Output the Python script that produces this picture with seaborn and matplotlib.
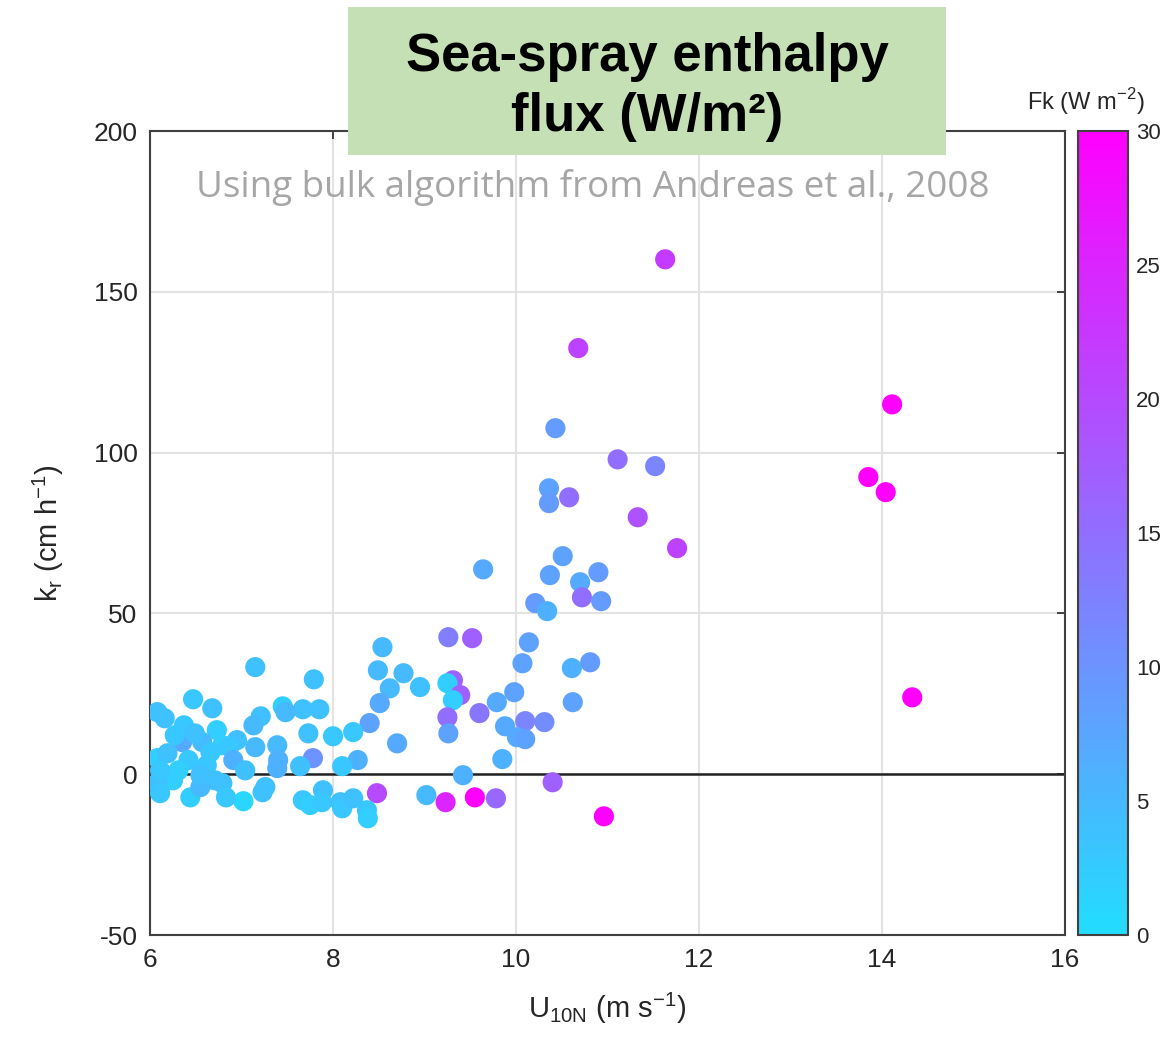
import numpy as np
import pandas as pd
import seaborn as sns
import matplotlib.pyplot as plt
from matplotlib.colors import LinearSegmentedColormap, Normalize
from matplotlib.cm import ScalarMappable
from matplotlib.patches import Rectangle

sns.set_style("white")
plt.rcParams["font.family"] = ["Liberation Sans", "DejaVu Sans"]
plt.rcParams["axes.unicode_minus"] = False

# Wind speed U10N (m/s)
u10n = [
    11.63, 10.68, 14.11, 11.11, 11.52, 10.43, 13.85, 14.04, 10.36, 10.36,
    10.58, 11.33, 11.76, 10.51, 9.64, 10.37, 10.70, 10.90, 10.72, 10.93,
    10.21, 10.34, 9.26, 9.52, 10.14, 10.07, 10.61, 10.81, 9.31, 9.25,
    9.39, 9.31, 9.98, 9.79, 9.60, 9.25, 9.26, 9.88, 10.10, 10.31,
    10.01, 10.10, 10.62, 9.85, 9.42, 10.40, 9.23, 9.55, 9.78, 10.96,
    14.33, 8.48, 9.02,
    7.15, 8.54, 7.79, 8.49, 8.77, 8.62, 8.95, 8.51, 8.40, 8.70,
    8.27, 8.10, 7.78, 7.64, 8.00, 8.22, 7.73, 7.85, 7.67, 7.45,
    7.48, 7.21, 7.13, 6.95, 7.39, 7.40, 7.39, 7.15, 7.26, 7.23,
    7.02, 7.67, 7.75, 7.89, 7.88, 8.08, 8.10, 8.22, 8.37, 8.38,
    6.47, 6.68, 6.08, 6.16, 6.37, 6.73, 6.35, 6.57, 6.79, 6.87,
    6.91, 6.62, 6.08, 6.19, 6.25, 6.08, 6.11, 6.44, 6.71, 6.79,
    6.55, 6.27, 6.49, 6.42, 6.31, 6.66, 6.11, 6.55, 7.04, 6.83,
]

# Transfer coefficient k_r (cm/h)
k_r = [
    160.1, 132.5, 115.0, 97.9, 95.8, 107.6, 92.4, 87.7, 88.9, 84.3,
    86.1, 79.9, 70.3, 67.8, 63.7, 61.9, 59.7, 62.8, 55.0, 53.8,
    53.2, 50.7, 42.6, 42.3, 41.0, 34.5, 33.0, 34.8, 29.2, 28.3,
    24.6, 23.0, 25.5, 22.4, 19.0, 17.7, 12.7, 14.9, 16.5, 16.2,
    11.5, 10.9, 22.4, 4.7, -0.3, -2.5, -8.7, -7.2, -7.5, -13.1,
    23.9, -5.9, -6.5,
    33.3, 39.5, 29.5, 32.3, 31.4, 26.7, 27.1, 22.1, 15.9, 9.6,
    4.4, 2.5, 5.0, 2.5, 11.8, 13.1, 12.7, 20.2, 20.2, 21.1,
    19.3, 18.0, 15.2, 10.6, 9.0, 4.4, 1.9, 8.4, -4.0, -5.6,
    -8.4, -8.1, -9.6, -5.0, -8.7, -8.7, -10.6, -7.5, -11.2, -13.7,
    23.3, 20.5, 19.3, 17.4, 15.2, 13.7, 10.0, 10.0, 9.0, 8.7,
    4.4, 2.8, 5.0, 6.5, -1.9, -2.8, -5.9, -7.2, -1.9, -2.8,
    -4.0, 12.1, 12.7, 4.4, 1.2, 6.8, 1.2, -0.3, 1.2, -7.2,
]

# Sea-spray enthalpy flux Fk (W/m^2)
fk = [
    22, 21, 30, 15, 12, 9, 30, 30, 8, 9,
    15, 19, 21, 8, 7, 8, 7, 9, 15, 9,
    9, 6, 13, 17, 8, 8, 6, 9, 17, 2,
    17, 2, 8, 7, 14, 15, 8, 7, 12, 11,
    7, 8, 8, 6, 6, 17, 25, 30, 16, 30,
    30, 20, 5,
    4, 5, 4, 5, 5, 5, 4, 7, 8, 7,
    6, 3, 10, 4, 3, 3, 4, 4, 4, 2,
    5, 4, 5, 4, 5, 6, 6, 5, 4, 4,
    1, 3, 2, 4, 3, 4, 3, 4, 3, 2,
    3, 4, 4, 4, 3, 2, 7, 5, 2, 3,
    6, 3, 2, 4, 2, 4, 3, 2, 4, 4,
    5, 3, 4, 3, 2, 3, 3, 4, 4, 3,
]

df = pd.DataFrame({"u10n": u10n, "kr": k_r, "fk": fk})

cmap = LinearSegmentedColormap.from_list("spray", ["#22DDFF", "#FF00FF"])
norm = Normalize(vmin=0, vmax=30)

fig = plt.figure(figsize=(11.65, 10.54), dpi=100)
ax = fig.add_axes([0.1288, 0.1129, 0.7854, 0.7628])

ax.grid(True, color="#E3E3E3", linewidth=1.5, zorder=0)
ax.axhline(0, color="#222222", linewidth=1.8, zorder=1)

sns.scatterplot(data=df, x="u10n", y="kr", hue="fk", palette=cmap,
                hue_norm=norm, s=210, linewidth=0, alpha=1.0,
                legend=False, ax=ax, zorder=3)

ax.set_xlim(6, 16)
ax.set_ylim(-50, 200)
ax.set_xticks([6, 8, 10, 12, 14, 16])
ax.set_yticks([-50, 0, 50, 100, 150, 200])
ax.tick_params(direction="in", length=6, width=1.2, colors="#262626",
               labelsize=19, top=True, right=True, pad=9)
for sp in ax.spines.values():
    sp.set_color("#404040")
    sp.set_linewidth(1.5)
ax.set_axisbelow(True)

ax.set_xlabel(r"U$_{\mathregular{10N}}$ (m s$^{\mathregular{-1}}$)",
              fontsize=21, color="#262626", labelpad=14)
ax.set_ylabel(r"k$_{\mathregular{r}}$ (cm h$^{\mathregular{-1}}$)",
              fontsize=21, color="#262626", labelpad=20)

# Colour bar for Fk
cax = fig.add_axes([0.9253, 0.1129, 0.0429, 0.7628])
sm = ScalarMappable(norm=norm, cmap=cmap)
cb = fig.colorbar(sm, cax=cax)
cb.set_ticks([0, 5, 10, 15, 20, 25, 30])
cax.tick_params(direction="in", length=6, width=1.2, colors="#262626",
                labelsize=16, pad=6)
cb.outline.set_edgecolor("#404040")
cb.outline.set_linewidth(1.5)
fig.text(1086 / 1165, 1 - 102 / 1054, r"Fk (W m$^{\mathregular{-2}}$)", fontsize=17,
         color="#262626", ha="center", va="center")

# Title banner
fig.patches.append(Rectangle((348 / 1165, 1 - 155 / 1054), 598 / 1165, 148 / 1054,
                             transform=fig.transFigure, facecolor="#C5E0B4",
                             edgecolor="none", zorder=5))
fig.text(647 / 1165, 1 - 87 / 1054, "Sea-spray enthalpy\nflux (W/m²)",
         fontsize=38, fontweight="bold", color="black", ha="center",
         va="center", linespacing=1.28, zorder=6)

fig.text(593 / 1165, 1 - 188 / 1054,
         "Using bulk algorithm from Andreas et al., 2008",
         fontsize=26.5, color="#A6A6A6", ha="center", va="center",
         family=["Open Sans", "DejaVu Sans"], zorder=6)

fig.savefig("out.png", dpi=100, facecolor="white")
